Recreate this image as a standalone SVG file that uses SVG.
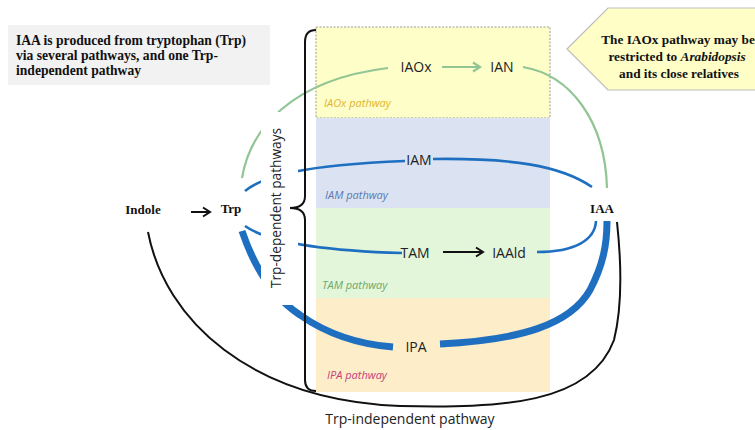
<svg xmlns="http://www.w3.org/2000/svg" width="755" height="430" viewBox="0 0 755 430">
  <style>
    .serif { font-family: "Liberation Serif", "Times New Roman", serif; font-weight: bold; fill: #111; }
    .node { font-family: "Open Sans", "Liberation Sans", sans-serif; font-size: 14px; fill: #222; text-anchor: middle; }
    .plabel { font-family: "Open Sans", "Liberation Sans", sans-serif; font-size: 11px; font-style: italic; }
    .green { fill: none; stroke: #92c594; stroke-width: 2.2; }
    .blue { fill: none; stroke: #1f6fc1; stroke-width: 2.6; }
    .thick { fill: none; stroke: #1f6fc1; stroke-width: 7; }
    .black { fill: none; stroke: #111; stroke-width: 2; }
  </style>
  <defs>
    <marker id="arrowBlack" markerUnits="userSpaceOnUse" markerWidth="12" markerHeight="12" refX="9" refY="6" orient="auto">
      <path d="M2,1.5 L9,6 L2,10.5" fill="none" stroke="#111" stroke-width="2"/>
    </marker>
    <marker id="arrowGreen" markerUnits="userSpaceOnUse" markerWidth="12" markerHeight="12" refX="9" refY="6" orient="auto">
      <path d="M2,1.5 L9,6 L2,10.5" fill="none" stroke="#92c594" stroke-width="2.2"/>
    </marker>
  </defs>

  <!-- pathway panels -->
  <g id="panels">
    <rect id="panel-iaox" x="316" y="27" width="234" height="91" fill="#fefec9" stroke="#9a9a9a" stroke-width="1" stroke-dasharray="2 1.5"/>
    <rect id="panel-iam" x="316" y="118" width="234" height="90" fill="#dbe3f2"/>
    <rect id="panel-tam" x="316" y="208" width="234" height="90" fill="#e3f6da"/>
    <rect id="panel-ipa" x="316" y="298" width="234" height="94" fill="#fdedc9"/>
    <text class="plabel" x="324" y="107" fill="#e2b52e">IAOx pathway</text>
    <text class="plabel" x="325" y="199" fill="#5a79b3">IAM pathway</text>
    <text class="plabel" x="322" y="289" fill="#6ea86a">TAM pathway</text>
    <text class="plabel" x="327" y="379" fill="#c2427c">IPA pathway</text>
  </g>

  <!-- info box -->
  <g id="info-box">
    <rect x="8" y="25" width="262" height="60" fill="#f2f2f2"/>
    <text class="serif" font-size="13.6" x="16" y="45">IAA is produced from tryptophan (Trp)</text>
    <text class="serif" font-size="13.6" x="16" y="60">via several pathways, and one Trp-</text>
    <text class="serif" font-size="13.6" x="16" y="75">independent pathway</text>
  </g>

  <!-- callout -->
  <g id="callout">
    <polygon points="567,49 608,8 760,8 760,90 608,90" fill="#fefec6" stroke="#bdbdbd" stroke-width="1.2"/>
    <text class="serif" font-size="13.3" text-anchor="middle" x="678" y="44">The IAOx pathway may be</text>
    <text class="serif" font-size="13.3" text-anchor="middle" x="677" y="61">restricted to <tspan font-style="italic">Arabidopsis</tspan></text>
    <text class="serif" font-size="13.3" text-anchor="middle" x="679" y="78">and its close relatives</text>
  </g>

  <!-- connectors -->
  <g id="connectors">
    <!-- IAOx branch -->
    <path class="green" d="M242,178 C250,130 290,80 388,68"/>
    <path class="green" d="M442,67 L480,67" marker-end="url(#arrowGreen)"/>
    <path class="green" d="M523,67 C570,75 605,120 607,188"/>
    <!-- IAM branch -->
    <path class="blue" d="M245,191 C262,177 300,165 405,161"/>
    <path class="blue" d="M433,159 C510,158 560,165 592,187"/>
    <!-- TAM branch -->
    <path class="blue" d="M245,226 C262,238 300,250 402,253"/>
    <path class="black" d="M443,252 L483,252" marker-end="url(#arrowBlack)"/>
    <path class="blue" d="M537,252 C575,252 595,240 596,221"/>
    <!-- IPA branch -->
    <path class="thick" stroke-width="6.5" d="M242,231 Q262,290 300,315 Q340,343 393,347"/>
    <path class="thick" stroke-width="7.5" d="M440,344 C520,340 570,325 590,290 C603,265 607,245 607,221"/>
    <!-- Trp-independent route -->
    <path class="black" d="M148,232 C165,320 250,400 400,406 C500,408 590,405 614,340 C624,300 620,250 617,222"/>
    <!-- Indole to Trp -->
    <path class="black" d="M191,212 L210,212" marker-end="url(#arrowBlack)"/>
  </g>

  <!-- label strip over the branch roots -->
  <g id="trp-dependent-label">
    <rect x="261" y="112" width="37" height="193" fill="#ffffff"/>
    <text transform="translate(281,208) rotate(-90)" font-family="'Open Sans', 'Liberation Sans', sans-serif" font-size="13.7" fill="#222" text-anchor="middle">Trp-dependent pathways</text>
  </g>

  <!-- brace -->
  <g id="brace">
    <path d="M316,30 Q305,30 305,42 L305,196 Q305,208 290,208 Q305,208 305,220 L305,380 Q305,391 316,391" fill="none" stroke="#111" stroke-width="2"/>
  </g>

  <!-- nodes -->
  <g id="node-indole"><text class="serif" font-size="13" text-anchor="middle" x="143" y="214">Indole</text></g>
  <g id="node-trp"><text class="serif" font-size="13" text-anchor="middle" x="231" y="213">Trp</text></g>
  <g id="node-iaa"><text class="serif" font-size="13" text-anchor="middle" x="602" y="213">IAA</text></g>
  <g id="node-iaox"><text class="node" x="416" y="72">IAOx</text></g>
  <g id="node-ian"><text class="node" x="502" y="72">IAN</text></g>
  <g id="node-iam"><text class="node" x="419" y="165">IAM</text></g>
  <g id="node-tam"><text class="node" x="415" y="258">TAM</text></g>
  <g id="node-iaald"><text class="node" x="509" y="258">IAAld</text></g>
  <g id="node-ipa"><text class="node" x="416" y="352">IPA</text></g>
  <g id="label-independent"><text class="node" x="410" y="424">Trp-independent pathway</text></g>
</svg>
